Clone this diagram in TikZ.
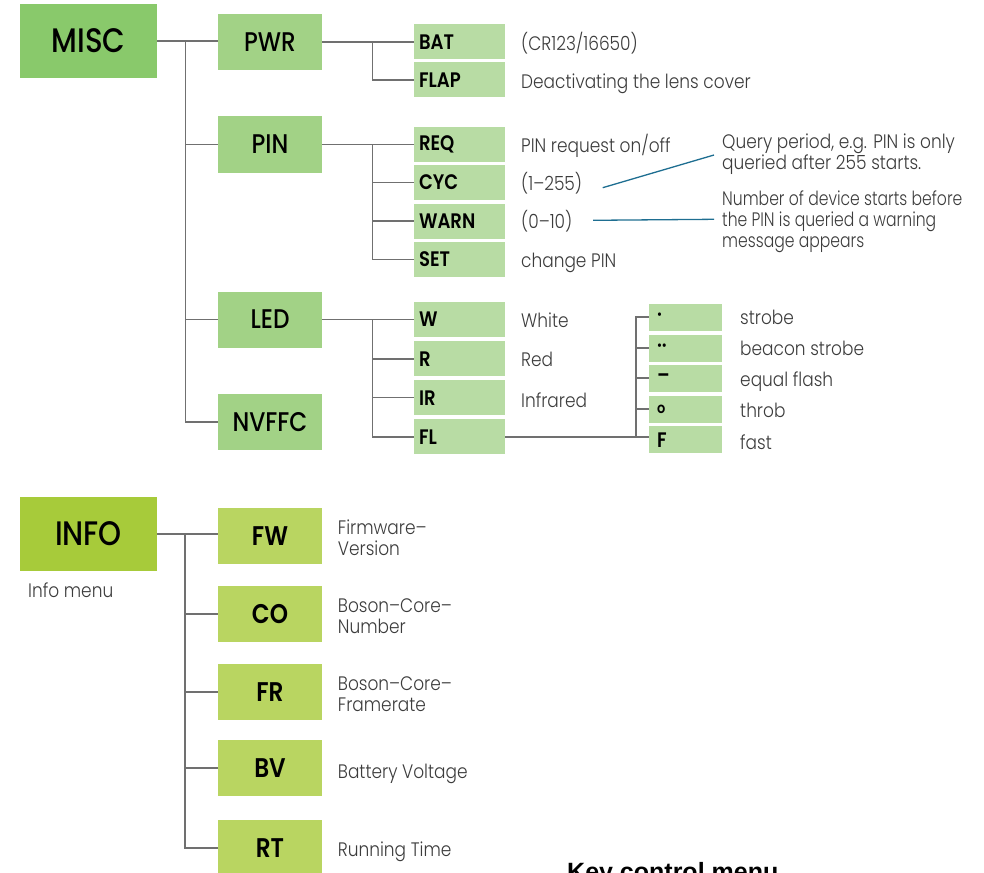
\documentclass[tikz,border=0pt]{standalone}
\usepackage{fontspec}
\IfFontExistsTF{Poppins Light}{\newfontfamily\descfont{Poppins Light}[FakeStretch=0.87]}{\newfontfamily\descfont{Poppins}[FakeStretch=0.87]}
\IfFontExistsTF{Poppins Medium}{\newfontfamily\medfont{Poppins Medium}[FakeStretch=0.86]}{\newfontfamily\medfont{Poppins}[FakeStretch=0.86]}
\IfFontExistsTF{Poppins SemiBold}{\newfontfamily\semifont{Poppins SemiBold}[FakeStretch=0.86]}{\newfontfamily\semifont{Poppins}[FakeStretch=0.86]}
\newfontfamily\keyfont{Liberation Sans}
\definecolor{miscG}{RGB}{137,201,107}
\definecolor{lvltwoG}{RGB}{162,210,134}
\definecolor{lvlthreeG}{RGB}{184,220,164}
\definecolor{infoG}{RGB}{167,203,58}
\definecolor{infosubG}{RGB}{185,213,97}
\definecolor{lineC}{RGB}{112,112,112}
\definecolor{blueC}{RGB}{30,110,145}
\definecolor{descC}{RGB}{60,60,60}
\begin{document}
\begin{tikzpicture}[x=1pt,y=-1pt,
  topbox/.style={rectangle,inner sep=0pt,minimum width=137pt,minimum height=74pt,font=\medfont\fontsize{34}{34}\selectfont},
  catbox/.style={rectangle,inner sep=0pt,minimum width=104pt,minimum height=56pt,fill=lvltwoG,font=\medfont\fontsize{27}{27}\selectfont},
  infobox/.style={rectangle,inner sep=0pt,minimum width=104pt,minimum height=56pt,fill=infosubG,font=\semifont\fontsize{27}{27}\selectfont},
  leafbox/.style={rectangle,inner xsep=5pt,inner ysep=0pt,text width=81pt,align=left,minimum height=35pt,fill=lvlthreeG,font=\semifont\fontsize{21}{21}\selectfont},
  flashbox/.style={rectangle,inner xsep=8pt,inner ysep=0pt,text width=57pt,align=left,minimum height=27pt,fill=lvlthreeG,font=\semifont\fontsize{21}{21}\selectfont},
  desc/.style={inner sep=0pt,anchor=mid west,text=descC,font=\descfont\fontsize{19.5}{21}\selectfont},
  descml/.style={inner sep=0pt,anchor=west,align=left,text=descC,font=\descfont\fontsize{19.5}{21}\selectfont},
  conn/.style={draw=lineC,line width=1.4pt},
  notec/.style={draw=blueC,line width=1.3pt}]
\useasboundingbox (0,0) rectangle (984,872);
\clip (0,0) rectangle (984,872);
% ---------------- MISC ----------------
\node[topbox,fill=miscG] (misc) at (88.5,41) {MISC};
\node[catbox] (pwr) at (270,42) {PWR};
\node[catbox] (pin) at (270,144.5) {PIN};
\node[catbox] (led) at (270,319.5) {LED};
\node[catbox] (nvffc) at (270,422) {NVFFC};
\node[leafbox] (bat) at (459.5,42) {BAT};
\node[leafbox] (flap) at (459.5,80) {FLAP};
\node[leafbox] (req) at (459.5,144.5) {REQ};
\node[leafbox] (cyc) at (459.5,182.3) {CYC};
\node[leafbox] (warn) at (459.5,221) {WARN};
\node[leafbox] (set) at (459.5,259.5) {SET};
\node[leafbox] (w) at (459.5,319.5) {W};
\node[leafbox] (r) at (459.5,358.9) {R};
\node[leafbox] (ir) at (459.5,397.7) {IR};
\node[leafbox] (fl) at (459.5,436.8) {FL};
\node[flashbox] (f1) at (685.5,317) {·};
\node[flashbox] (f2) at (685.5,348) {··};
\node[flashbox] (f3) at (685.5,378) {–};
\node[flashbox] (f4) at (685.5,409) {{\fontsize{15}{15}\selectfont o}};
\node[flashbox] (f5) at (685.5,439.7) {F};
% connectors
\coordinate (mtr) at (185.7,0);
\coordinate (ptr) at (372.3,0);
\coordinate (ftr) at (636,0);
\draw[conn] (misc.east) -- (misc.east -| pwr.west);
\draw[conn] (mtr |- misc.east) -- (mtr |- nvffc.west) -- (nvffc.west);
\draw[conn] (mtr |- pin.west) -- (pin.west);
\draw[conn] (mtr |- led.west) -- (led.west);
\draw[conn] (pwr.east) -- (bat.west);
\draw[conn] (ptr |- pwr.east) -- (ptr |- flap.west) -- (flap.west);
\draw[conn] (pin.east) -- (req.west);
\draw[conn] (ptr |- pin.east) -- (ptr |- set.west) -- (set.west);
\draw[conn] (ptr |- cyc.west) -- (cyc.west);
\draw[conn] (ptr |- warn.west) -- (warn.west);
\draw[conn] (led.east) -- (w.west);
\draw[conn] (ptr |- led.east) -- (ptr |- fl.west) -- (fl.west);
\draw[conn] (ptr |- r.west) -- (r.west);
\draw[conn] (ptr |- ir.west) -- (ir.west);
\draw[conn] (fl.east) -- (ftr |- fl.east) -- (fl.east -| f5.west);
\draw[conn] (ftr |- fl.east) -- (ftr |- f1.west) -- (f1.west);
\draw[conn] (ftr |- f2.west) -- (f2.west);
\draw[conn] (ftr |- f3.west) -- (f3.west);
\draw[conn] (ftr |- f4.west) -- (f4.west);
% descriptions
\node[desc] (tbat) at (521,48) {(CR123/16650)};
\node[desc] (tflap) at (521,86) {Deactivating the lens cover};
\node[desc] (treq) at (521,150) {PIN request on/off};
\node[desc] (tcyc) at (521,188) {(1–255)};
\node[desc] (twarn) at (521,226) {(0–10)};
\node[desc] (tset) at (521,265.5) {change PIN};
\node[desc] (tw) at (521,325) {White};
\node[desc] (tr) at (521,364) {Red};
\node[desc] (tir) at (521,405) {Infrared};
\node[desc] (tf1) at (740,322.7) {strobe};
\node[desc] (tf2) at (740,353.3) {beacon strobe};
\node[desc] (tf3) at (740,384.3) {equal flash};
\node[desc] (tf4) at (740,415) {throb};
\node[desc] (tf5) at (740,447.3) {fast};
\node[descml] (q1) at (722,154) {Query period, e.g. PIN is only\\queried after 255 starts.};
\node[descml,xscale=0.92,transform shape] (q2) at (722,222) {Number of device starts before\\the PIN is queried a warning\\message appears};
\coordinate (c1a) at (602.7,187.7);
\coordinate (c1b) at (714,155);
\coordinate (c2a) at (593,220.3);
\coordinate (c2b) at (714,219.3);
\draw[notec] (c1a) -- (c1b);
\draw[notec] (c2a) -- (c2b);
% ---------------- INFO ----------------
\node[topbox,fill=infoG] (info) at (88.5,534) {INFO};
\node[desc] (tinfo) at (28,595) {Info menu};
\node[infobox] (fw) at (270,536) {FW};
\node[infobox] (co) at (270,614) {CO};
\node[infobox] (fr) at (270,692) {FR};
\node[infobox] (bv) at (270,768) {BV};
\node[infobox] (rt) at (270,848) {RT};
\coordinate (itr) at (185,0);
\draw[conn] (info.east) -- (info.east -| fw.west);
\draw[conn] (itr |- info.east) -- (itr |- rt.west) -- (rt.west);
\draw[conn] (itr |- co.west) -- (co.west);
\draw[conn] (itr |- fr.west) -- (fr.west);
\draw[conn] (itr |- bv.west) -- (bv.west);
\node[descml] (tfw) at (337.7,538) {Firmware–\\Version};
\node[descml] (tco) at (337.7,616) {Boson–Core–\\Number};
\node[descml] (tfr) at (337.7,694) {Boson–Core–\\Framerate};
\node[desc] (tbv) at (337.7,776.7) {Battery Voltage};
\node[desc] (trt) at (337.7,854.3) {Running Time};
% cut-off heading
\node[inner sep=0pt,anchor=base west,text=black,font=\keyfont\bfseries\fontsize{25}{25}\selectfont] (key) at (567,880) {Key control menu};
\end{tikzpicture}
\end{document}
